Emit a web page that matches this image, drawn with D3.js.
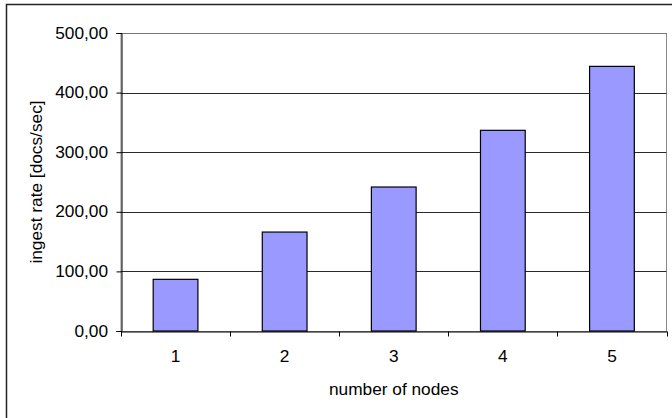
<!DOCTYPE html>
<html>
<head>
<meta charset="utf-8">
<script src="https://cdn.jsdelivr.net/npm/d3@7"></script>
<style>
  html, body { margin: 0; padding: 0; background: #fff; }
  svg { display: block; }
  text { font-family: "Liberation Sans", Arial, sans-serif; fill: #000; }
</style>
</head>
<body>
<svg id="chart" width="672" height="418"></svg>
<script>
// Ingest throughput per cluster size
const nodes = ["1", "2", "3", "4", "5"];
const ingestRate = [86.7, 166, 241.6, 336.7, 444];
const yTicks = [0, 100, 200, 300, 400, 500];
const xTitle = "number of nodes";
const yTitle = "ingest rate [docs/sec]";

const W = 672, H = 418;
const plot = { left: 121, top: 33, right: 666.5, bottom: 331 };
const fontSize = 16;
const stretch = 1.08; // wide glyphs along the baseline

const svg = d3.select("#chart");

// outer chart frame (runs past the right and bottom edges)
svg.append("rect")
  .attr("x", 6.5).attr("y", 4.5)
  .attr("width", 720).attr("height", 500)
  .attr("fill", "#fff")
  .attr("stroke", "#222").attr("stroke-width", 1.5);

const locale = d3.formatLocale({ decimal: ",", thousands: ".", grouping: [3], currency: ["", ""] });
const fmt = locale.format(".2f");

const x = d3.scaleBand().domain(nodes).range([plot.left, plot.right]).padding(0);
const y = d3.scaleLinear().domain([0, 500]).range([plot.bottom, plot.top]);

// plot area border (gray)
svg.append("rect")
  .attr("x", plot.left).attr("y", plot.top + 0.5)
  .attr("width", plot.right - plot.left).attr("height", plot.bottom - plot.top)
  .attr("fill", "#fff").attr("stroke", "#888").attr("stroke-width", 1);

// horizontal gridlines
svg.append("g").selectAll("line")
  .data(yTicks.filter(d => d > 0))
  .join("line")
  .attr("x1", plot.left).attr("x2", plot.right)
  .attr("y1", d => Math.round(y(d)) + 0.5).attr("y2", d => Math.round(y(d)) + 0.5)
  .attr("stroke", d => d === 500 ? "#777" : "#2a2a2a").attr("stroke-width", 1);

// bars
const barW = x.bandwidth() * 0.41;
svg.append("g").selectAll("rect")
  .data(nodes.map((n, i) => ({ n, v: ingestRate[i] })))
  .join("rect")
  .attr("x", d => x(d.n) + (x.bandwidth() - barW) / 2)
  .attr("y", d => y(d.v))
  .attr("width", barW)
  .attr("height", d => y(0) - y(d.v))
  .attr("fill", "#9999ff")
  .attr("stroke", "#000").attr("stroke-width", 1.2);

// y axis
const yAxis = svg.append("g")
  .attr("transform", `translate(${plot.left + 0.5},0)`)
  .call(d3.axisLeft(y).tickValues(yTicks).tickSize(5).tickFormat(""));
yAxis.select(".domain").attr("stroke", "#000");
yAxis.selectAll(".tick line").attr("stroke", "#000");

svg.append("g").selectAll("text")
  .data(yTicks)
  .join("text")
  .attr("transform", d => `translate(108,${y(d) + 5.5}) scale(${stretch},1)`)
  .attr("text-anchor", "end")
  .attr("font-size", fontSize)
  .text(d => fmt(d));

// x axis: ticks at category boundaries
const xAxis = svg.append("g")
  .attr("transform", `translate(0,${plot.bottom + 0.5})`)
  .call(d3.axisBottom(x).tickSize(0).tickFormat(""));
xAxis.select(".domain").attr("stroke", "#000");
const bounds = nodes.map(n => x(n)).concat([plot.right]);
xAxis.append("g").selectAll("line")
  .data(bounds)
  .join("line")
  .attr("x1", d => Math.round(d) + 0.5).attr("x2", d => Math.round(d) + 0.5)
  .attr("y1", 0).attr("y2", 5)
  .attr("stroke", "#000");

svg.append("g").selectAll("text")
  .data(nodes)
  .join("text")
  .attr("transform", d => `translate(${x(d) + x.bandwidth() / 2},362) scale(${stretch},1)`)
  .attr("text-anchor", "middle")
  .attr("font-size", fontSize)
  .text(d => d);

// axis titles
svg.append("text")
  .attr("transform", `translate(${(plot.left + plot.right) / 2},395) scale(${stretch},1)`)
  .attr("text-anchor", "middle")
  .attr("font-size", fontSize)
  .text(xTitle);

svg.append("text")
  .attr("transform", `translate(42,${(plot.top + plot.bottom) / 2}) rotate(-90) scale(${stretch},1)`)
  .attr("text-anchor", "middle")
  .attr("font-size", fontSize)
  .text(yTitle);
</script>
</body>
</html>
